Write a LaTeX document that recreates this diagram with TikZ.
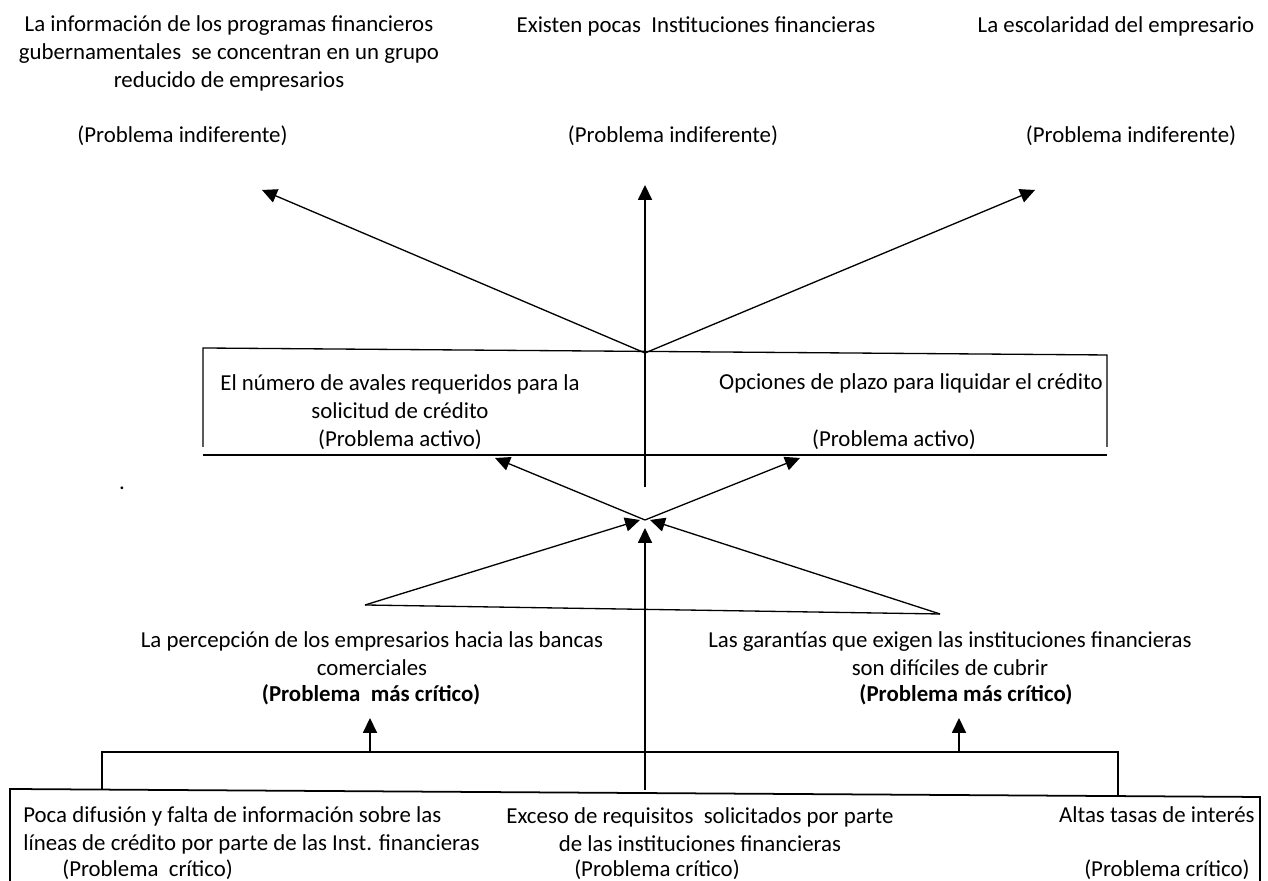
\documentclass[tikz,border=0pt]{standalone}
\usepackage{fontspec}
\setmainfont{Carlito}
\usetikzlibrary{arrows.meta}

\tikzset{
  lbl/.style={font=\fontsize{13}{15.9}\selectfont, inner sep=0pt, align=center},
  flecha/.style={line width=0.75pt, -{Triangle[length=8.5pt,width=8pt]}},
  linea/.style={line width=0.75pt},
}

\begin{document}
\begin{tikzpicture}
\useasboundingbox (0,0) rectangle (25.36,17.62);
% problemas indiferentes
\node[lbl] (info) at (4.580,16.560) {La información de los programas financieros\\gubernamentales\ \ se concentran en un grupo\\reducido de empresarios};
\node[lbl] (infop) at (3.650,14.900) {(Problema indiferente)};
\node[lbl] (inst) at (13.920,17.100) {Existen pocas\ \ Instituciones financieras};
\node[lbl] (instp) at (13.460,14.900) {(Problema indiferente)};
\node[lbl] (esc) at (22.320,17.100) {La escolaridad del empresario};
\node[lbl] (escp) at (22.620,14.900) {(Problema indiferente)};
\coordinate (hub) at (12.900,10.560);
\coordinate (tipA) at (5.240,13.820);
\coordinate (tipB) at (12.900,13.920);
\coordinate (tipC) at (20.700,13.820);
\coordinate (vtop) at (12.900,7.880);
\draw[flecha] (hub) -- (tipA);
\draw[flecha] (vtop) -- (tipB);
\draw[flecha] (hub) -- (tipC);
% problemas activos
\coordinate (mNW) at (4.060,10.660);
\coordinate (mNE) at (22.140,10.520);
\coordinate (mSW) at (4.060,8.680);
\coordinate (mSE) at (22.140,8.680);
\draw[linea] (mSW) -- (mNW) -- (mNE) -- (mSE);
\draw[line width=1.1pt] (4.060,8.520) -- (22.140,8.520);
\node[lbl] (aval) at (8.000,9.380) {El número de avales requeridos para la\\solicitud de crédito\\(Problema activo)};
\node[lbl] (plazo) at (18.220,9.960) {Opciones de plazo para liquidar el crédito};
\node[lbl] (plazop) at (17.880,8.820) {(Problema activo)};
\coordinate (cruce) at (12.900,7.220);
\coordinate (avalT) at (9.900,8.460);
\coordinate (plazoT) at (16.000,8.460);
\draw[flecha] (cruce) -- (avalT);
\draw[flecha] (cruce) -- (plazoT);
% problemas mas criticos
\coordinate (triL) at (7.300,5.520);
\coordinate (triR) at (18.800,5.340);
\coordinate (cruceL) at (12.800,7.220);
\coordinate (cruceR) at (13.000,7.220);
\coordinate (cruceB) at (12.900,7.060);
\draw[flecha] (triL) -- (cruceL);
\draw[flecha] (triR) -- (cruceR);
\draw[linea] (triL) -- (triR);
\node[lbl] (perc) at (7.440,4.540) {La percepción de los empresarios hacia las bancas\\comerciales};
\node[lbl, font=\fontsize{13}{15.9}\selectfont\bfseries] (percp) at (7.420,3.720) {(Problema\ \ más crítico)};
\node[lbl] (gar) at (19.000,4.540) {Las garantías que exigen las instituciones financieras\\son difíciles de cubrir};
\node[lbl, font=\fontsize{13}{15.9}\selectfont\bfseries] (garp) at (19.320,3.720) {(Problema más crítico)};
\node[lbl] (punto) at (2.440,7.860) {.};
% problemas criticos
\coordinate (bL) at (2.040,2.580);
\coordinate (bR) at (22.360,2.580);
\coordinate (bC) at (12.900,1.820);
\coordinate (percB) at (7.400,2.580);
\coordinate (percT) at (7.400,3.260);
\coordinate (garB) at (19.180,2.580);
\coordinate (garT) at (19.180,3.260);
\draw[linea] (2.040,1.840) -- (bL) -- (bR) -- (22.360,1.680);
\draw[flecha] (bC) -- (cruceB);
\draw[flecha] (percB) -- (percT);
\draw[flecha] (garB) -- (garT);
\draw[line width=1pt] (0.200,0) -- (0.200,1.840) -- (25.200,1.680) -- (25.200,0);
\node[lbl, align=left, anchor=west] (dif) at (0.460,1.020) {Poca difusión y falta de información sobre las\\líneas de crédito por parte de las Inst. financieras};
\node[lbl, anchor=west] (difp) at (1.240,0.220) {(Problema\ \ crítico)};
\node[lbl] (exc) at (14.000,1.020) {Exceso de requisitos\ \ solicitados por parte\\de las instituciones financieras};
\node[lbl] (excp) at (13.140,0.220) {(Problema crítico)};
\node[lbl, anchor=east] (tasa) at (25.100,1.320) {Altas tasas de interés};
\node[lbl, anchor=east] (tasap) at (25.000,0.220) {(Problema crítico)};
\end{tikzpicture}
\end{document}
